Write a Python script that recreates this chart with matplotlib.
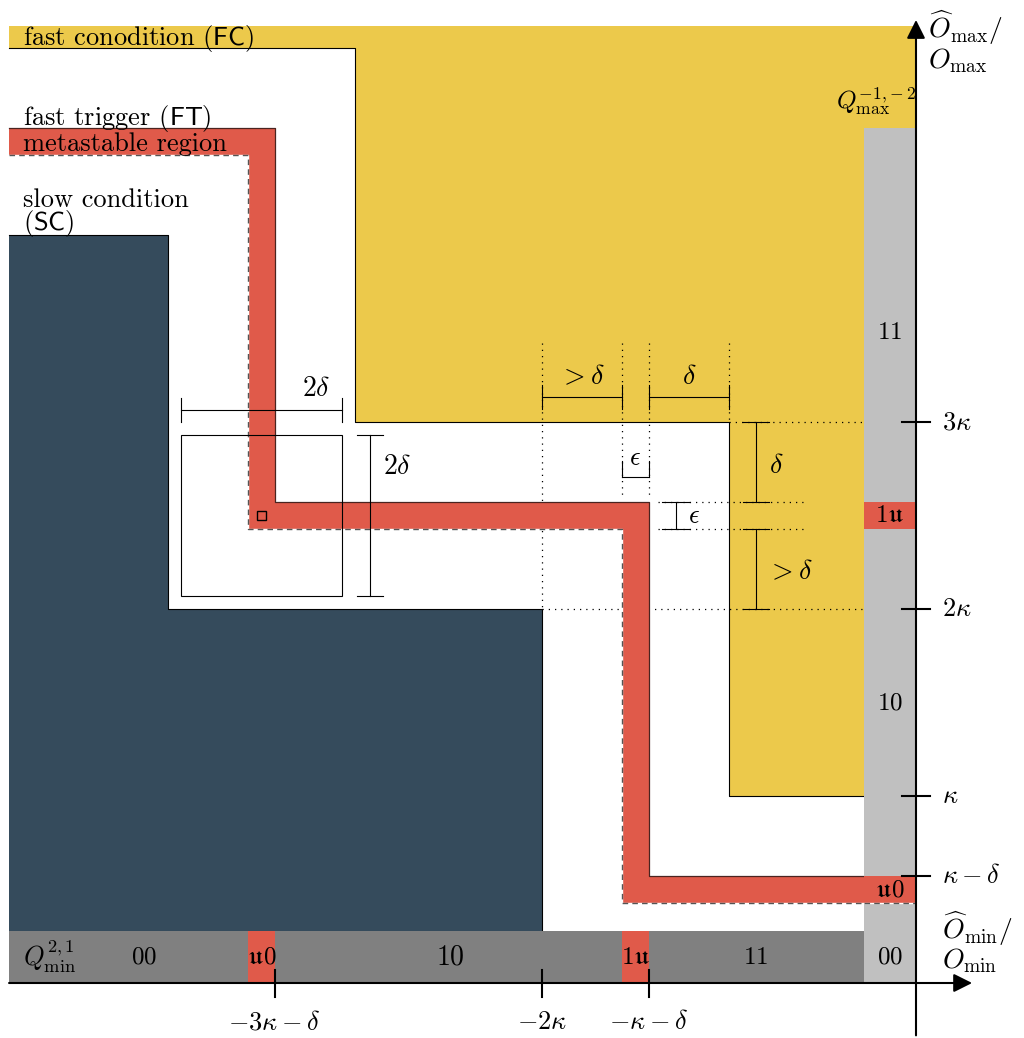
import matplotlib.pyplot as plt
from matplotlib.patches import Polygon, Rectangle

plt.rcParams['mathtext.fontset'] = 'cm'
plt.rcParams['axes.unicode_minus'] = False

# === Diagram parameters (kappa units) ===
K = 1.0          # kappa
D = 0.43         # delta
E = 0.14         # epsilon
x_left = -4.85   # left border of the drawing
fc_top = 5.12    # top of the fast-condition band
strip = 2 * E    # width of the Q strips along the axes

# region outlines
fc_x = [x_left, 0, 0, -K, -K, -3 * K, -3 * K, x_left]
fc_y = [fc_top, fc_top, K, K, 3 * K, 3 * K, 5 * K, 5 * K]

sc_x = [x_left, -4 * K, -4 * K, -2 * K, -2 * K, x_left]
sc_y = [4 * K, 4 * K, 2 * K, 2 * K, strip, strip]

ft_outer_x = [x_left, -3 * K - D, -3 * K - D, -K - D, -K - D, 0]
ft_outer_y = [5 * K - D, 5 * K - D, 2 * K + D + E, 2 * K + D + E, K - D, K - D]
ft_inner_x = [x_left, -3 * K - D - E, -3 * K - D - E, -K - D - E, -K - D - E, 0]
ft_inner_y = [5 * K - D - E, 5 * K - D - E, 2 * K + D, 2 * K + D, K - D - E, K - D - E]

# strip codes
qmin_codes = [r'$00$', r'$\mathfrak{u}0$', r'$10$', r'$1\mathfrak{u}$', r'$11$']
qmin_pos = [-4.13, -3 * K - D - E / 2, -2.49, -K - D - E / 2, -0.86]
qmax_codes = [r'$11$', r'$1\mathfrak{u}$', r'$10$', r'$\mathfrak{u}0$', r'$00$']
qmax_pos = [3.48, 2 * K + D + E / 2, 1.5, K - D - E / 2, E]

# red cells inside the strips
qmin_red = [-3 * K - D - E, -K - D - E]
qmax_red = [2 * K + D, K - D - E]

# axis ticks
yticks = [3 * K, 2 * K, K, K - D]
ytick_labels = [r'$3\kappa$', r'$2\kappa$', r'$\kappa$', r'$\kappa-\delta$']
xticks = [-3 * K - D, -2 * K, -K - D]
xtick_labels = [r'$-3\kappa-\delta$', r'$-2\kappa$', r'$-\kappa-\delta$']

yellow = '#ECC94B'
red = '#E05A4A'
navy = '#354B5C'
light_gray = '#C0C0C0'
dark_gray = '#808080'

fig = plt.figure(figsize=(10.24, 10.38), dpi=100)
ax = fig.add_axes([0, 0, 1, 1])
ax.set_xlim(-916 / 187, 108 / 187)
ax.set_ylim(-55 / 187, 983 / 187)
ax.axis('off')

# --- regions ---
ax.add_patch(Polygon(list(zip(fc_x, fc_y)), closed=True, facecolor=yellow, edgecolor='none', zorder=1))
ax.plot([x_left, -3 * K, -3 * K, -K, -K, -strip], [5 * K, 5 * K, 3 * K, 3 * K, K, K],
        color='k', lw=0.8, zorder=2)

ax.add_patch(Polygon(list(zip(sc_x, sc_y)), closed=True, facecolor=navy, edgecolor='none', zorder=1))
ax.plot(sc_x[:5], sc_y[:5], color='k', lw=0.8, zorder=2)

# dotted guides
dot = dict(color='k', lw=0.9, ls=(0, (1, 4)), zorder=1.5)
ax.plot([-2 * K, -2 * K], [3.42, 2 * K], **dot)
ax.plot([-K - D - E, -K - D - E], [3.42, 2.6], **dot)
ax.plot([-K - D, -K - D], [3.42, 2.6], **dot)
ax.plot([-K, -K], [3.42, 3 * K], **dot)
ax.plot([-K, 0], [3 * K, 3 * K], **dot)
ax.plot([-2 * K, 0], [2 * K, 2 * K], **dot)
ax.plot([-1.38, -0.58], [2 * K + D + E] * 2, **dot)
ax.plot([-1.38, -0.58], [2 * K + D] * 2, **dot)

# metastable band
band = list(zip(ft_outer_x, ft_outer_y)) + list(zip(ft_inner_x, ft_inner_y))[::-1]
ax.add_patch(Polygon(band, closed=True, facecolor=red, edgecolor='none', zorder=3))
ax.plot(ft_outer_x, ft_outer_y, color='#4a2420', lw=0.9, zorder=4)
ax.plot(ft_inner_x, ft_inner_y, color='white', lw=1.0, zorder=4)
ax.plot(ft_inner_x, ft_inner_y, color='#555555', lw=1.0, ls=(0, (4, 3)), zorder=4)

# --- Q strips ---
ax.add_patch(Rectangle((x_left, 0), -strip - x_left, strip, facecolor=dark_gray, edgecolor='none', zorder=5))
ax.add_patch(Rectangle((-strip, 0), strip, 5 * K - D, facecolor=light_gray, edgecolor='none', zorder=5))
for x0 in qmin_red:
    ax.add_patch(Rectangle((x0, 0), E, strip, facecolor=red, edgecolor='none', zorder=6))
for y0 in qmax_red:
    ax.add_patch(Rectangle((-strip, y0), strip, E, facecolor=red, edgecolor='none', zorder=6))
ax.plot([-strip, 0], [K - D - E] * 2, color='white', lw=1.0, zorder=6.5)
ax.plot([-strip, 0], [K - D - E] * 2, color='#555555', lw=1.0, ls=(0, (4, 3)), zorder=6.5)

for lab, x in zip(qmin_codes, qmin_pos):
    fs = 20 if lab == r'$10$' else 18
    ax.text(x, E, lab, ha='center', va='center', fontsize=fs, zorder=7)
for lab, y in zip(qmax_codes, qmax_pos):
    ax.text(-strip / 2, y, lab, ha='center', va='center', fontsize=18, zorder=7)
ax.text(-4.775, E, r'$Q_{\min}^{2,1}$', ha='left', va='center', fontsize=19, zorder=7)
ax.text(0.0, 4.71, r'$Q_{\max}^{-1,\!-2}$', ha='right', va='center', fontsize=18, zorder=7)

# --- delta box around the corner of the band ---
cx, cy = -3 * K - D - E / 2, 2 * K + D + E / 2
ax.add_patch(Rectangle((cx - D, cy - D), 2 * D, 2 * D, facecolor='none', edgecolor='k', lw=0.8, zorder=4.5))
ax.add_patch(Rectangle((cx - 0.022, cy - 0.022), 0.044, 0.044, facecolor='none', edgecolor='k', lw=1.0, zorder=4.5))

# dimension lines
def hdim(x0, x1, y, h=0.065):
    ax.plot([x0, x1], [y, y], color='k', lw=0.8, zorder=4.5)
    ax.plot([x0, x0], [y - h, y + h], color='k', lw=0.8, zorder=4.5)
    ax.plot([x1, x1], [y - h, y + h], color='k', lw=0.8, zorder=4.5)

def vdim(x, y0, y1, w=0.07):
    ax.plot([x, x], [y0, y1], color='k', lw=0.8, zorder=4.5)
    ax.plot([x - w, x + w], [y0, y0], color='k', lw=0.8, zorder=4.5)
    ax.plot([x - w, x + w], [y1, y1], color='k', lw=0.8, zorder=4.5)

hdim(cx - D, cx + D, 3.064)
vdim(-2.92, cy - D, cy + D)
hdim(-2 * K, -K - D - E, 3.134)
hdim(-K - D, -K, 3.134)
ax.plot([-K - D - E, -K - D], [2.706, 2.706], color='k', lw=0.8, zorder=4.5)
ax.plot([-K - D - E] * 2, [2.706, 2.79], color='k', lw=0.8, zorder=4.5)
ax.plot([-K - D] * 2, [2.706, 2.79], color='k', lw=0.8, zorder=4.5)
vdim(-0.856, 2 * K + D + E, 3 * K)
vdim(-1.283, 2 * K + D, 2 * K + D + E, w=0.075)
vdim(-0.856, 2 * K, 2 * K + D)

ax.text(-3.21, 3.18, r'$2\delta$', ha='center', va='center', fontsize=20)
ax.text(-2.775, 2.765, r'$2\delta$', ha='center', va='center', fontsize=20)
ax.text(-1.786, 3.246, r'$>\delta$', ha='center', va='center', fontsize=20)
ax.text(-1.214, 3.246, r'$\delta$', ha='center', va='center', fontsize=20)
ax.text(-1.503, 2.81, r'$\epsilon$', ha='center', va='center', fontsize=19)
ax.text(-1.187, 2.495, r'$\epsilon$', ha='center', va='center', fontsize=19)
ax.text(-0.749, 2.77, r'$\delta$', ha='center', va='center', fontsize=20)
ax.text(-0.674, 2.203, r'$>\delta$', ha='center', va='center', fontsize=20)

# --- region labels ---
lab_kw = dict(ha='left', va='baseline', fontsize=19, family='cmr10', zorder=8)
ax.text(-4.775, 5.016, r'fast conodition ($\mathsf{FC}$)', **lab_kw)
ax.text(-4.775, 4.588, r'fast trigger ($\mathsf{FT}$)', **lab_kw)
ax.text(-4.775, 4.449, 'metastable region', **lab_kw)
ax.text(-4.775, 4.150, 'slow condition', **lab_kw)
ax.text(-4.775, 4.027, r'($\mathsf{SC}$)', **lab_kw)

# --- axes ---
ax.annotate('', xy=(0, 5.15), xytext=(0, -0.28),
            arrowprops=dict(arrowstyle='-|>', mutation_scale=28, lw=1.5, color='k', shrinkA=0, shrinkB=0),
            zorder=9)
ax.annotate('', xy=(0.3, 0), xytext=(x_left, 0),
            arrowprops=dict(arrowstyle='-|>', mutation_scale=28, lw=1.5, color='k', shrinkA=0, shrinkB=0),
            zorder=9)
for y, lab in zip(yticks, ytick_labels):
    ax.plot([-0.075, 0.075], [y, y], color='k', lw=1.5, zorder=9)
    ax.text(0.139, y, lab, ha='left', va='center', fontsize=19)
for x, lab in zip(xticks, xtick_labels):
    ax.plot([x, x], [0.07, -0.075], color='k', lw=1.5, zorder=9)
    ax.text(x, -0.21, lab, ha='center', va='center', fontsize=19)

ax.text(0.064, 5.035, r'$\widehat{O}_{\max}/$' + '\n' + r'$O_{\max}$',
        ha='left', va='center', fontsize=20, linespacing=0.95)
ax.text(0.139, 0.22, r'$\widehat{O}_{\min}/$' + '\n' + r'$O_{\min}$',
        ha='left', va='center', fontsize=20, linespacing=0.95)

fig.savefig('out.png', dpi=100)
